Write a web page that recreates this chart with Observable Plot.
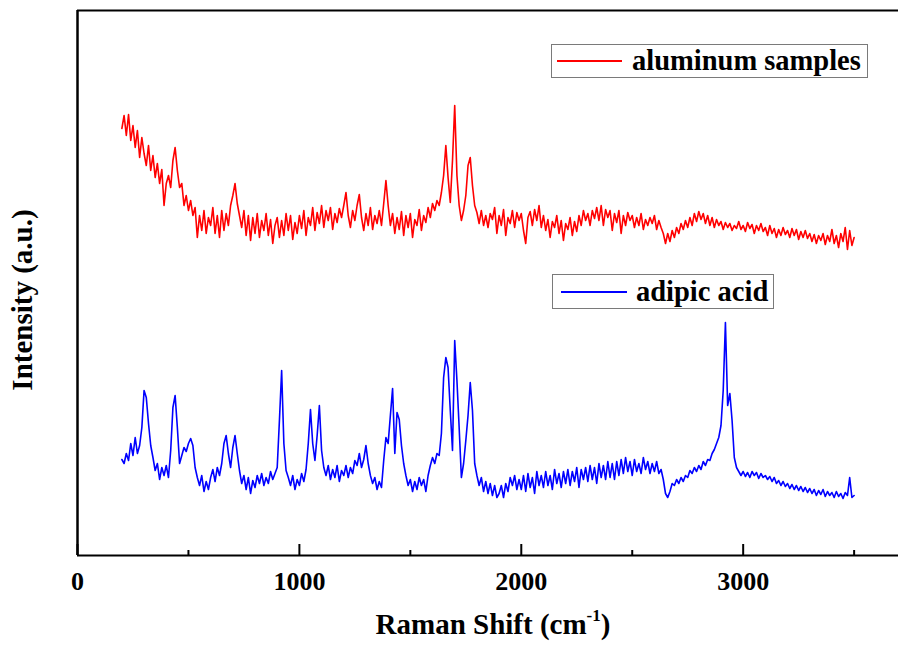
<!DOCTYPE html>
<html><head><meta charset="utf-8">
<script src="https://cdn.jsdelivr.net/npm/d3@7"></script>
<script src="https://cdn.jsdelivr.net/npm/@observablehq/plot@0.6"></script>
<style>
body{margin:0;background:#fff}
#wrap{position:relative;width:898px;height:648px;overflow:hidden}
.leg{position:absolute;box-sizing:border-box;border:1px solid #7a7a7a;background:#fff;display:flex;align-items:center;font:bold 28.5px "Liberation Serif","Times New Roman",serif;color:#000;white-space:nowrap}
.leg .s{display:inline-block;height:2px}
</style></head>
<body><div id="wrap"></div>
<script>
// Raman shift grid (cm-1), 200..3500 every 10
const shift = d3.range(200, 3501, 10);
const aluminum = [
427,440,420,441,415,430,408,425,398,418,
402,390,410,385,400,378,392,372,386,350,
372,380,368,395,408,385,368,372,350,360,
345,355,340,348,318,340,325,345,322,338,
330,348,322,340,318,345,325,342,330,350,
360,372,352,340,328,345,320,340,315,338,
322,342,318,335,325,342,320,336,312,330,
338,318,335,320,342,325,340,316,333,322,
340,327,345,320,338,330,348,325,343,332,
350,328,345,335,348,326,342,333,347,338,
350,363,340,328,345,335,350,361,338,325,
342,330,348,326,340,332,345,330,352,375,
350,330,342,322,338,326,344,320,340,328,
342,318,336,330,346,325,340,333,348,338,
352,345,355,350,363,380,410,378,353,395,
450,380,350,335,345,360,390,398,370,350,
343,332,345,330,340,328,342,336,348,322,
340,330,346,320,338,332,345,328,343,335,
342,325,312,338,344,330,346,335,350,328,
340,325,336,318,334,328,340,322,335,315,
332,326,338,320,334,324,340,330,345,335,
342,330,345,337,348,335,350,330,346,338,
345,325,342,333,345,322,340,330,343,335,
340,328,338,330,342,326,336,330,338,332,
340,326,335,328,322,312,322,314,325,318,
328,322,332,326,335,328,338,330,342,334,
344,336,342,332,340,330,338,328,336,330,
334,326,333,328,332,325,330,327,334,326,
330,324,333,327,331,322,330,325,332,324,
328,320,330,322,327,318,326,320,328,321,
325,318,327,320,326,316,324,318,325,317,
322,314,321,312,320,315,322,311,320,314,
326,312,320,308,322,314,328,306,325,310,
318];
const adipic = [
96,92,102,95,112,100,118,102,110,128,
165,158,132,110,98,85,92,76,88,80,
90,78,105,148,160,128,92,100,108,104,
112,117,110,88,78,70,80,64,74,66,
78,86,74,88,80,92,112,120,102,88,
108,120,102,85,72,80,66,78,62,75,
68,80,72,82,70,78,72,84,76,82,
88,135,185,112,85,78,70,80,66,76,
70,82,74,86,112,146,112,95,120,150,
105,88,80,90,76,86,78,90,74,85,
80,90,78,88,82,95,90,102,88,96,
110,92,80,72,78,66,74,68,95,118,
112,140,167,102,143,136,110,92,80,70,
76,64,74,66,78,70,76,64,80,90,
98,92,102,100,122,178,198,188,145,105,
215,175,128,78,92,115,140,173,145,92,
80,70,78,64,74,62,72,60,70,58,
62,70,58,72,64,78,70,80,66,76,
66,80,64,82,68,78,62,84,70,80,
68,84,70,80,66,86,72,82,68,84,
72,86,70,84,74,88,68,86,76,88,
74,90,76,88,72,92,78,90,76,94,
78,92,76,94,80,96,82,98,84,94,
80,96,84,92,82,98,86,94,82,92,
84,94,82,86,76,62,58,64,72,70,
76,72,78,74,80,78,85,82,88,84,
90,86,94,90,96,95,102,106,112,118,
130,165,233,150,162,135,98,88,84,80,
84,79,83,78,84,80,83,77,82,78,
80,76,79,74,78,72,75,70,74,69,
72,67,71,66,70,65,69,64,68,63,
67,62,66,60,65,61,66,59,64,60,
63,58,64,59,62,57,63,60,78,58,
60];
const seriesNames = ["aluminum samples", "adipic acid"];
const seriesColors = ["#ff0000", "#0000ff"];
const majorTicks = [0, 1000, 2000, 3000];
const minorTicks = [500, 1500, 2500, 3500];
const xLabel = "Raman Shift (cm-1)";
const yLabel = "Intensity (a.u.)";

const alData = shift.map((s, i) => ({shift: s, v: aluminum[i]}));
const adData = shift.map((s, i) => ({shift: s, v: adipic[i]}));

const plot = Plot.plot({
  width: 898, height: 648,
  marginLeft: 77, marginRight: 0, marginTop: 10, marginBottom: 93,
  style: {fontFamily: '"Liberation Serif","Times New Roman",serif', fontWeight: "bold", fontSize: "26px", color: "#000", background: "#fff", overflow: "hidden"},
  x: {domain: [0, 3700], ticks: majorTicks, tickSize: 0, tickPadding: 16, tickFormat: d => String(d), label: null},
  y: {domain: [0, 545], axis: null},
  marks: [
    Plot.line(alData, {x: "shift", y: "v", stroke: seriesColors[0], strokeWidth: 1.6}),
    Plot.line(adData, {x: "shift", y: "v", stroke: seriesColors[1], strokeWidth: 1.6}),
    Plot.ruleX([0], {stroke: "#000", strokeWidth: 2.5}),
    Plot.ruleY([0, 545], {stroke: "#000", strokeWidth: 2.2}),
    Plot.ruleX(majorTicks, {y1: 0, y2: 11, stroke: "#000", strokeWidth: 2}),
    Plot.ruleX(minorTicks, {y1: 0, y2: 5, stroke: "#000", strokeWidth: 2}),
    Plot.text([yLabel], {text: d => d, frameAnchor: "left", textAnchor: "middle", rotate: -90, dx: -55, dy: 17, fontSize: 29, fontWeight: "bold"}),
    Plot.text([xLabel], {text: d => d, frameAnchor: "bottom", textAnchor: "middle", dx: 5, dy: 78, fontSize: 29, fontWeight: "bold"})
  ]
});

// superscript for the x label
d3.select(plot).selectAll("text").each(function() {
  if (this.textContent === xLabel) {
    const t = d3.select(this);
    t.text("Raman Shift (cm");
    t.append("tspan").attr("font-size", 17).attr("dy", "-0.75em").text("-1");
    t.append("tspan").attr("dy", "0.45em").text(")");
  }
});

const wrap = document.getElementById("wrap");
wrap.appendChild(plot);

function legend(name, color, left, top, w, h, pad, len, gap) {
  const d = document.createElement("div");
  d.className = "leg";
  Object.assign(d.style, {left: left + "px", top: top + "px", width: w + "px", height: h + "px", paddingLeft: pad + "px"});
  const s = document.createElement("span");
  s.className = "s";
  Object.assign(s.style, {width: len + "px", background: color, marginRight: gap + "px"});
  d.appendChild(s);
  d.appendChild(document.createTextNode(name));
  wrap.appendChild(d);
}
legend(seriesNames[0], seriesColors[0], 551, 44, 317, 34, 5, 65, 10);
legend(seriesNames[1], seriesColors[1], 552, 274, 222, 35, 8, 66, 9);
</script></body></html>
